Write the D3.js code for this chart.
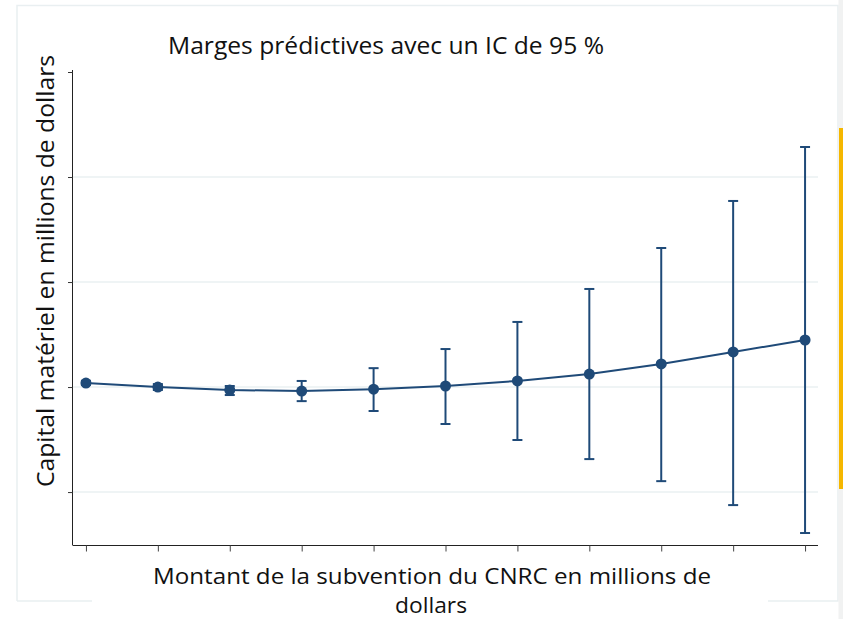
<!DOCTYPE html>
<html>
<head>
<meta charset="utf-8">
<script src="https://cdn.jsdelivr.net/npm/d3@7"></script>
<style>
  body { margin: 0; background: #fff; }
  svg text { font-family: "Open Sans", "Noto Sans", sans-serif; fill: #111; }
</style>
</head>
<body>
<svg id="chart" width="843" height="619"></svg>
<script>
// montant de la subvention (millions $)
var grants = [0, 1, 2, 3, 4, 5, 6, 7, 8, 9, 10];
// marges prédictives et IC 95 %
var margins = [5.19, 5.00, 4.86, 4.81, 4.90, 5.05, 5.29, 5.62, 6.10, 6.67, 7.24];
var ciLow  = [5.10, 4.86, 4.62, 4.33, 3.86, 3.24, 2.48, 1.57, 0.52, -0.62, -1.95];
var ciHigh = [5.29, 5.14, 5.05, 5.29, 5.90, 6.81, 8.10, 9.67, 11.62, 13.86, 16.43];
var yTicks = [0, 5, 10, 15, 20];

var svg = d3.select("#chart");
var color = "#1f4a78";

// faint frame around the page
var frame = svg.append("g").attr("fill", "none").attr("stroke", "#e9eff1").attr("stroke-width", 1.5);
frame.append("path").attr("d", "M17,601 L17,5.5 L838,5.5 L838,601 L17,601");
svg.append("rect").attr("x", 838.5).attr("y", 0).attr("width", 5).attr("height", 619).attr("fill", "#f1f2f2");
svg.append("rect").attr("x", 839).attr("y", 128).attr("width", 4).attr("height", 361).attr("fill", "#f5b700");

var x = d3.scaleLinear().domain([-0.18, 10.18]).range([73, 818]);
var y = d3.scaleLinear().domain([-2.52, 20]).range([545, 72]);

// gridlines
svg.append("g")
  .selectAll("line")
  .data(yTicks.slice(0, 4))
  .enter()
  .append("line")
  .attr("x1", 73).attr("x2", 818)
  .attr("y1", function(d) { return y(d); })
  .attr("y2", function(d) { return y(d); })
  .attr("stroke", "#eaf0f2")
  .attr("stroke-width", 1.5);

// axes, no labels
var yAxis = d3.axisLeft(y).tickValues(yTicks).tickSize(5).tickFormat("");
var xAxis = d3.axisBottom(x).tickValues(grants).tickSize(6).tickFormat("");

var gy = svg.append("g").attr("transform", "translate(73,0)").call(yAxis);
gy.select(".domain").attr("d", "M-0.5,70V545.5").attr("stroke", "#222");
gy.selectAll(".tick line").attr("stroke", "#333");

var gx = svg.append("g").attr("transform", "translate(0,545.5)").call(xAxis);
gx.select(".domain").attr("d", "M73,0H818").attr("stroke", "#222");
gx.selectAll(".tick line").attr("stroke", "#444");

// CI bars
var ci = svg.append("g").attr("stroke", color).attr("stroke-width", 2);
grants.forEach(function(g, i) {
  var cx = x(g);
  ci.append("line").attr("x1", cx).attr("x2", cx).attr("y1", y(ciLow[i])).attr("y2", y(ciHigh[i]));
  ci.append("line").attr("x1", cx - 5).attr("x2", cx + 5).attr("y1", y(ciLow[i])).attr("y2", y(ciLow[i]));
  ci.append("line").attr("x1", cx - 5).attr("x2", cx + 5).attr("y1", y(ciHigh[i])).attr("y2", y(ciHigh[i]));
});

// margins line + markers
var line = d3.line()
  .x(function(d, i) { return x(grants[i]); })
  .y(function(d) { return y(d); });

svg.append("path")
  .datum(margins)
  .attr("d", line)
  .attr("fill", "none")
  .attr("stroke", color)
  .attr("stroke-width", 2);

svg.append("g")
  .selectAll("circle")
  .data(margins)
  .enter()
  .append("circle")
  .attr("cx", function(d, i) { return x(grants[i]); })
  .attr("cy", function(d) { return y(d); })
  .attr("r", 5.5)
  .attr("fill", color);

// titles (Calibri-like widths)
svg.append("text")
  .attr("x", 386).attr("y", 54)
  .attr("text-anchor", "middle")
  .attr("textLength", 436).attr("lengthAdjust", "spacingAndGlyphs")
  .style("font-size", "24px")
  .text("Marges prédictives avec un IC de 95 %");

svg.append("text")
  .attr("transform", "translate(54,271) rotate(-90)")
  .attr("text-anchor", "middle")
  .attr("textLength", 432).attr("lengthAdjust", "spacingAndGlyphs")
  .style("font-size", "24px")
  .text("Capital matériel en millions de dollars");

// x title sits on a white box that cuts the frame
svg.append("rect").attr("x", 92).attr("y", 560).attr("width", 676).attr("height", 59).attr("fill", "#fff");
svg.append("text")
  .attr("x", 432).attr("y", 584)
  .attr("text-anchor", "middle")
  .attr("textLength", 558).attr("lengthAdjust", "spacingAndGlyphs")
  .style("font-size", "21.5px")
  .text("Montant de la subvention du CNRC en millions de");
svg.append("text")
  .attr("x", 431).attr("y", 613)
  .attr("text-anchor", "middle")
  .attr("textLength", 72).attr("lengthAdjust", "spacingAndGlyphs")
  .style("font-size", "21.5px")
  .text("dollars");
</script>
</body>
</html>
